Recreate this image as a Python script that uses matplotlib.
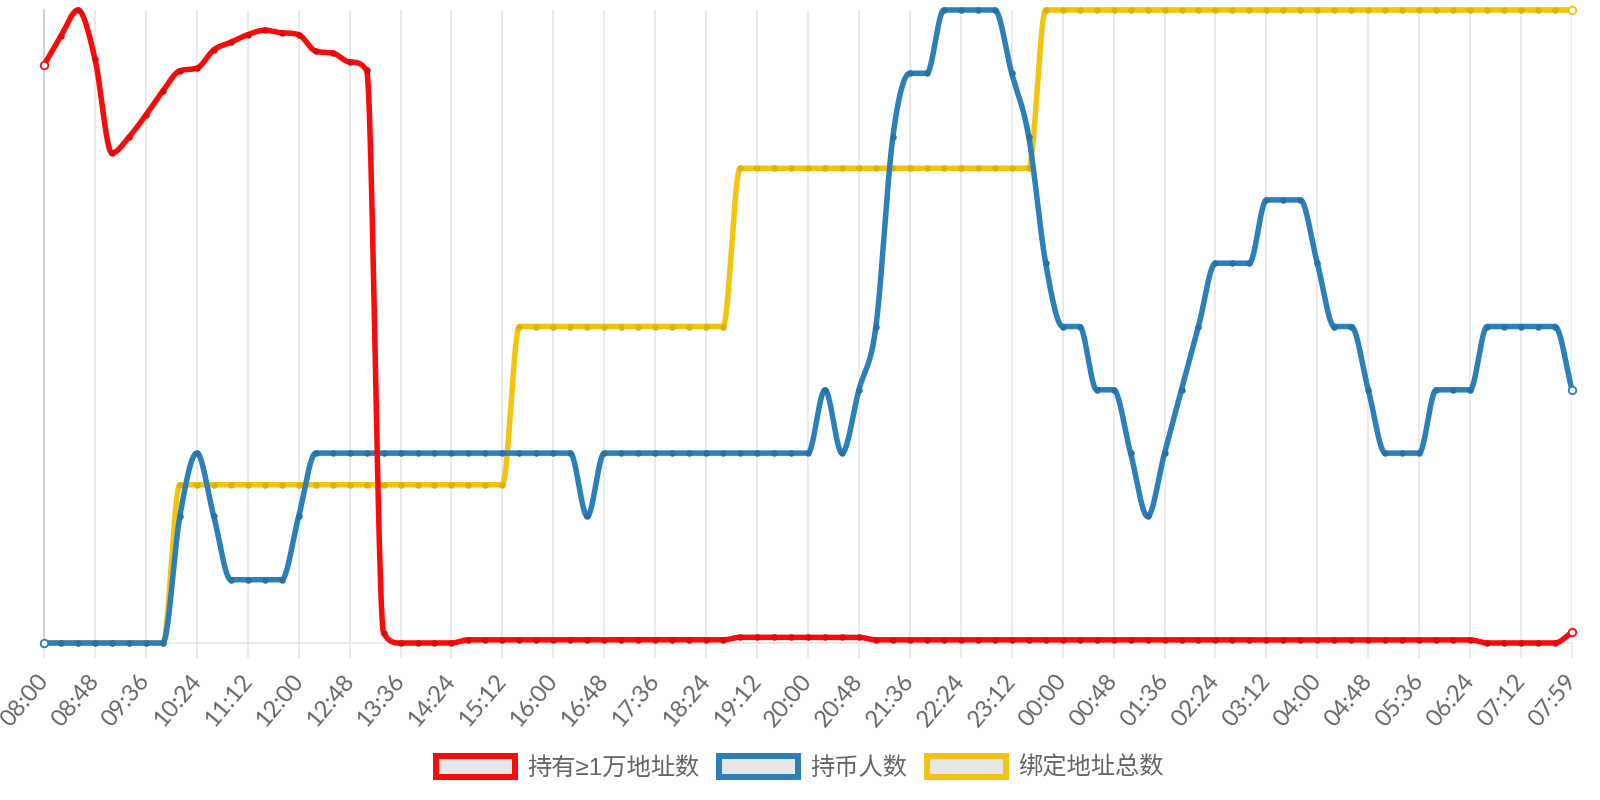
import numpy as np
import matplotlib
matplotlib.use("Agg")
import matplotlib.pyplot as plt
from matplotlib.patches import Patch

plt.rcParams["font.family"] = ["Liberation Sans", "Noto Sans CJK SC", "DejaVu Sans"]

TICK_LABELS = [
    "08:00", "08:48", "09:36", "10:24", "11:12", "12:00", "12:48", "13:36",
    "14:24", "15:12", "16:00", "16:48", "17:36", "18:24", "19:12", "20:00",
    "20:48", "21:36", "22:24", "23:12", "00:00", "00:48", "01:36", "02:24",
    "03:12", "04:00", "04:48", "05:36", "06:24", "07:12", "07:59",
]

# 持有≥1万地址数 (one reading every 16 minutes, 91 points)
RICH_ADDRS = [
    913, 959, 1000, 923, 774, 799, 834, 872, 904, 908,
    937, 949, 961, 968, 964, 961, 935, 932, 918, 905,
    16, 0, 0, 0, 0, 5, 5, 5, 5, 5,
    5, 5, 5, 5, 5, 5, 5, 5, 5, 5,
    5, 9, 9, 9, 9, 9, 9, 9, 9, 5,
    5, 5, 5, 5, 5, 5, 5, 5, 5, 5,
    5, 5, 5, 5, 5, 5, 5, 5, 5, 5,
    5, 5, 5, 5, 5, 5, 5, 5, 5, 5,
    5, 5, 5, 5, 5, 0, 0, 0, 0, 0,
    17,
]

# 持币人数
HOLDERS = [
    1240, 1240, 1240, 1240, 1240, 1240, 1240, 1240, 1242, 1243,
    1242, 1241, 1241, 1241, 1241, 1242, 1243, 1243, 1243, 1243,
    1243, 1243, 1243, 1243, 1243, 1243, 1243, 1243, 1243, 1243,
    1243, 1243, 1242, 1243, 1243, 1243, 1243, 1243, 1243, 1243,
    1243, 1243, 1243, 1243, 1243, 1243, 1244, 1243, 1244, 1245,
    1248, 1249, 1249, 1250, 1250, 1250, 1250, 1249, 1248, 1246,
    1245, 1245, 1244, 1244, 1243, 1242, 1243, 1244, 1245, 1246,
    1246, 1246, 1247, 1247, 1247, 1246, 1245, 1245, 1244, 1243,
    1243, 1243, 1244, 1244, 1244, 1245, 1245, 1245, 1245, 1245,
    1244,
]

# 绑定地址总数
BOUND_ADDRS = [
    3562, 3562, 3562, 3562, 3562, 3562, 3562, 3562, 3563, 3563,
    3563, 3563, 3563, 3563, 3563, 3563, 3563, 3563, 3563, 3563,
    3563, 3563, 3563, 3563, 3563, 3563, 3563, 3563, 3564, 3564,
    3564, 3564, 3564, 3564, 3564, 3564, 3564, 3564, 3564, 3564,
    3564, 3565, 3565, 3565, 3565, 3565, 3565, 3565, 3565, 3565,
    3565, 3565, 3565, 3565, 3565, 3565, 3565, 3565, 3565, 3566,
    3566, 3566, 3566, 3566, 3566, 3566, 3566, 3566, 3566, 3566,
    3566, 3566, 3566, 3566, 3566, 3566, 3566, 3566, 3566, 3566,
    3566, 3566, 3566, 3566, 3566, 3566, 3566, 3566, 3566, 3566,
    3566,
]

LABELS = ["持有≥1万地址数", "持币人数", "绑定地址总数"]
COLORS = ["#f90b0b", "#2b80b9", "#f2c40f"]
DOT_COLORS = ["#e00808", "#2672a8", "#dbb10c"]

PX = 72 / 100  # points per pixel at dpi 100


def monotone_curve(y, steps=24):
    """Fritsch-Carlson monotone cubic through equally spaced points."""
    y = np.asarray(y, dtype=float)
    n = len(y)
    d = np.diff(y)
    m = np.zeros(n)
    m[0], m[-1] = d[0], d[-1]
    for k in range(1, n - 1):
        if d[k - 1] * d[k] > 0:
            m[k] = (d[k - 1] + d[k]) / 2
    for k in range(n - 1):
        if d[k] == 0:
            m[k] = m[k + 1] = 0
            continue
        a, b = m[k] / d[k], m[k + 1] / d[k]
        s = a * a + b * b
        if s > 9:
            t = 3 / np.sqrt(s)
            m[k], m[k + 1] = t * a * d[k], t * b * d[k]
    xs, ys = [], []
    t = np.linspace(0, 1, steps, endpoint=False)
    h00 = 2 * t**3 - 3 * t**2 + 1
    h10 = t**3 - 2 * t**2 + t
    h01 = -2 * t**3 + 3 * t**2
    h11 = t**3 - t**2
    for k in range(n - 1):
        xs.append(k + t)
        ys.append(h00 * y[k] + h10 * m[k] + h01 * y[k + 1] + h11 * m[k + 1])
    xs.append([n - 1])
    ys.append([y[-1]])
    return np.concatenate(xs), np.concatenate(ys)


def draw_series(ax, values, color, dot_color, z):
    x = np.arange(len(values))
    cx, cy = monotone_curve(values)
    ax.plot(cx, cy, color=color, lw=5.5 * PX, solid_capstyle="round",
            solid_joinstyle="round", clip_on=False, zorder=z)
    ax.plot(x[1:-1], values[1:-1], "o", ms=6.5 * PX, mfc=dot_color,
            mec=dot_color, mew=0, clip_on=False, zorder=z + 0.1)
    ax.plot(x[[0, -1]], np.asarray(values)[[0, -1]], "o", ms=7.5 * PX,
            mfc="white", mec=color, mew=1.8 * PX, clip_on=False, zorder=z + 0.2)
    ax.set_ylim(min(values), max(values))


fig = plt.figure(figsize=(16, 8), dpi=100)
ax = fig.add_axes([44 / 1600, 1 - 643 / 800, (1572 - 44) / 1600, 633 / 800])
ax_b = ax.twinx()
ax_r = ax.twinx()

draw_series(ax, BOUND_ADDRS, COLORS[2], DOT_COLORS[2], 3)
draw_series(ax_b, HOLDERS, COLORS[1], DOT_COLORS[1], 3)
draw_series(ax_r, RICH_ADDRS, COLORS[0], DOT_COLORS[0], 3)

for a in (ax_b, ax_r):
    a.set_axis_off()

ax.set_xlim(0, len(BOUND_ADDRS) - 1)
ax.set_xticks(range(0, len(BOUND_ADDRS), 3))
ax.set_xticklabels(TICK_LABELS, rotation=50, ha="right", va="center",
                   rotation_mode="anchor", family=["Lato", "DejaVu Sans"])
ax.set_yticks([])
ax.grid(axis="x", color="#e4e4e4", lw=1.5 * PX)
ax.set_axisbelow(True)
ax.tick_params(axis="x", length=15 * PX, width=1.5 * PX, color="#e4e4e4",
               pad=19 * PX, labelsize=17, labelcolor="#666666")
for side in ("top", "right"):
    ax.spines[side].set_visible(False)
ax.spines["bottom"].set_color("#e4e4e4")
ax.spines["bottom"].set_linewidth(1.5 * PX)
ax.spines["left"].set_color("#c8c8c8")
ax.spines["left"].set_linewidth(1.5 * PX)

handles = [Patch(facecolor="#e6e6e6", edgecolor=c, linewidth=6 * PX)
           for c in COLORS]
fig.legend(handles, LABELS, loc="center", bbox_to_anchor=(800 / 1600, 1 - 768 / 800),
           ncol=3, frameon=False, fontsize=17.5, labelcolor="#666666",
           handlelength=3.25, handleheight=0.95, handletextpad=0.5,
           columnspacing=0.8)

fig.savefig("out.png", dpi=100)
